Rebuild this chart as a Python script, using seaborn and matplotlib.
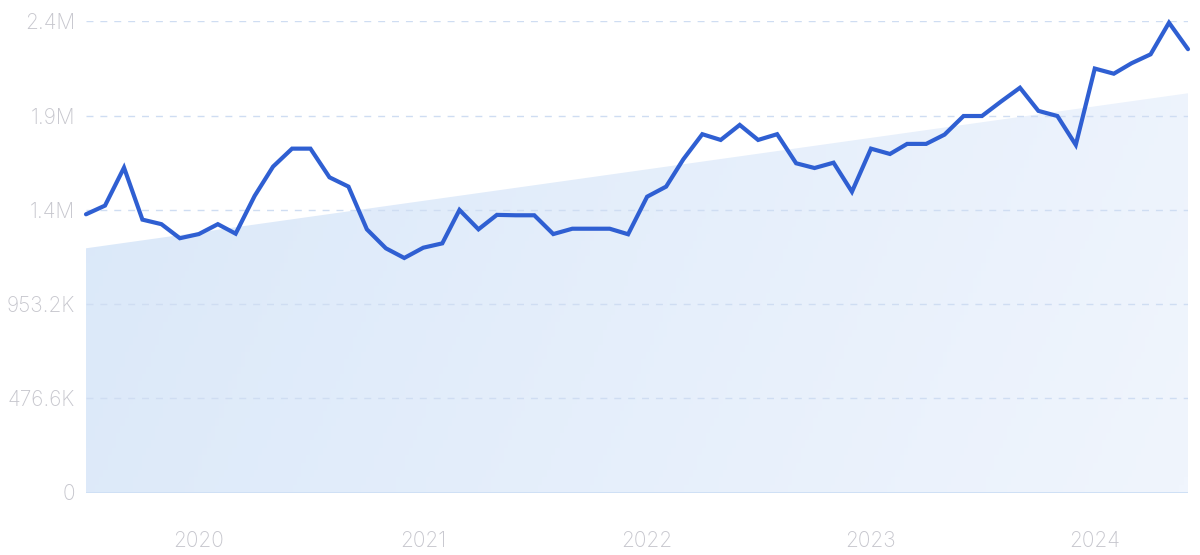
import numpy as np
import pandas as pd
import matplotlib
matplotlib.use("Agg")
import matplotlib.pyplot as plt
import matplotlib.dates as mdates
from matplotlib.colors import LinearSegmentedColormap
import seaborn as sns

# ==========================================
# DATA (monthly, Jul 2019 - Jun 2024)
# ==========================================
START_MONTH = "2019-07-01"
N_MONTHS = 60
values = [
    1.407, 1.451, 1.643, 1.380, 1.357, 1.286, 1.307, 1.357, 1.309, 1.500,
    1.648, 1.739, 1.739, 1.594, 1.547, 1.331, 1.235, 1.186, 1.238, 1.260,
    1.429, 1.331, 1.404, 1.402, 1.402, 1.307, 1.334, 1.334, 1.334, 1.306,
    1.496, 1.547, 1.685, 1.812, 1.783, 1.859, 1.783, 1.812, 1.665, 1.641,
    1.668, 1.521, 1.739, 1.712, 1.763, 1.763, 1.810, 1.904, 1.904, 1.977,
    2.047, 1.930, 1.904, 1.758, 2.144, 2.118, 2.171, 2.216, 2.376, 2.242,
]
trend_ends = [1.235, 2.019]
y_ticks = [0, 476.6e3, 953.2e3, 1429.8e3, 1906.4e3, 2383.0e3]
y_tick_labels = ["0", "476.6K", "953.2K", "1.4M", "1.9M", "2.4M"]
x_tick_years = [2020, 2021, 2022, 2023, 2024]

LINE_COLOR = "#2f5fd2"
TEXT_COLOR = "#c6c6cd"
GRID_COLOR = "#cfddf2"

dates = pd.date_range(START_MONTH, periods=N_MONTHS, freq="MS")
df = pd.DataFrame({"date": dates, "value": np.array(values) * 1e6})

sns.set_theme(style="white")
plt.rcParams["font.family"] = ["Inter", "DejaVu Sans"]

fig = plt.figure(figsize=(12, 5.55), dpi=100)
ax = fig.add_axes([86 / 1200, 62.5 / 555, (1188 - 86) / 1200, (492.5 - 21.3) / 555])

x0, x1 = mdates.date2num(dates[0]), mdates.date2num(dates[-1])
ax.set_xlim(dates[0], dates[-1])
ax.set_ylim(0, y_ticks[-1])

# trend area with soft gradient
trend_x = [dates[0], dates[-1]]
trend_y = [v * 1e6 for v in trend_ends]
poly = ax.fill_between(trend_x, 0, trend_y, color="none", lw=0)
cmap = LinearSegmentedColormap.from_list("fade", ["#dae8f9", "#f0f5fd"])
gx = np.linspace(0, 1, 256).reshape(1, -1)
gy = np.linspace(0, 1, 64).reshape(-1, 1)
grad = np.clip(0.85 * gx + 0.15 * (1 - gy), 0, 1)
img = ax.imshow(grad, cmap=cmap, aspect="auto",
                extent=[x0, x1, 0, y_ticks[-1]], origin="lower", zorder=1)
img.set_clip_path(poly.get_paths()[0], transform=ax.transData)

# dashed grid
for yt in y_ticks[1:]:
    ax.axhline(yt, color=GRID_COLOR, lw=1, ls=(0, (5, 5)), zorder=2)
ax.axhline(0, color="#c6daf3", lw=1.2, zorder=2)

sns.lineplot(data=df, x="date", y="value", ax=ax, color=LINE_COLOR,
             lw=3.0, zorder=5, clip_on=False)
for line in ax.lines:
    line.set_solid_joinstyle("miter")

ax.set_yticks(y_ticks)
ax.set_yticklabels(y_tick_labels)
ax.set_xticks([pd.Timestamp(f"{y}-01-01") for y in x_tick_years])
ax.set_xticklabels([str(y) for y in x_tick_years])
ax.tick_params(axis="y", length=0, pad=8, labelsize=15, labelcolor=TEXT_COLOR)
ax.tick_params(axis="x", length=0, pad=28, labelsize=15, labelcolor=TEXT_COLOR)
for lbl in ax.get_xticklabels() + ax.get_yticklabels():
    lbl.set_fontweight("light")
ax.set_xlabel("")
ax.set_ylabel("")
sns.despine(ax=ax, left=True, bottom=True)
ax.grid(False)

fig.savefig("out.png", dpi=100)
